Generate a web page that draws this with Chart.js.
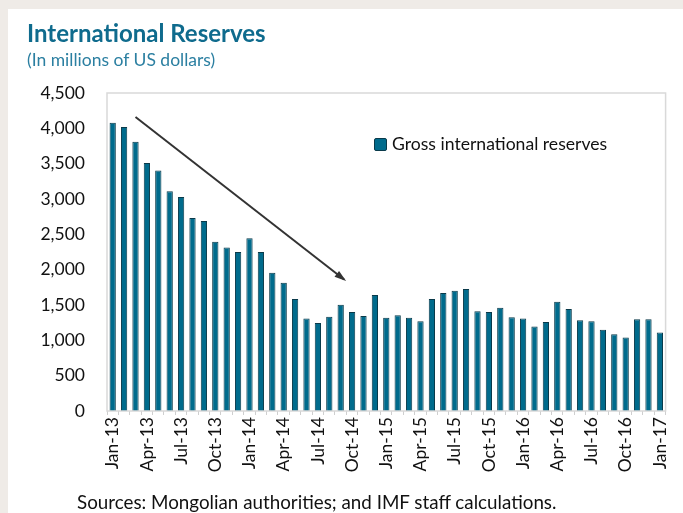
<!DOCTYPE html>
<html>

<head>
    <title>International Reserves</title>
    <script src="https://cdn.jsdelivr.net/npm/chart.js"></script>
    <style type="text/css">
        body {
            margin: 0;
            background: #efebe7;
            font-family: Lato, "Open Sans", sans-serif;
        }

        .card {
            position: absolute;
            left: 8px;
            top: 9px;
            width: 675px;
            height: 504px;
            background: #ffffff;
        }

        .wrap {
            position: absolute;
            left: 0;
            top: 0;
            width: 683px;
            height: 513px;
        }

        .title {
            position: absolute;
            left: 27px;
            top: 18px;
            font-size: 24px;
            font-weight: bold;
            color: #0f6b8d;
        }

        .subtitle {
            position: absolute;
            left: 27px;
            top: 49px;
            font-size: 17.5px;
            color: #2b7fa1;
        }

        .source {
            position: absolute;
            left: 77px;
            top: 490px;
            font-size: 18.8px;
            color: #111;
        }

        #legend {
            position: absolute;
            left: 374px;
            top: 133px;
            font-size: 17.6px;
            color: #111;
        }

        #legend span.box {
            display: inline-block;
            width: 11px;
            height: 11px;
            background: #006b8c;
            border: 1px solid #0a3a4a;
            border-radius: 2px;
            margin-right: 5px;
            vertical-align: -1px;
        }
    </style>
</head>

<body>
    <div class="card"></div>
    <div class="wrap">
        <canvas id="myChart" width="683" height="513"></canvas>
    </div>
    <div class="title">International Reserves</div>
    <div class="subtitle">(In millions of US dollars)</div>
    <div id="legend"></div>
    <div class="source">Sources: Mongolian authorities; and IMF staff calculations.</div>

    <script>
        const months = [
            'Jan-13', 'Feb-13', 'Mar-13', 'Apr-13', 'May-13', 'Jun-13', 'Jul-13', 'Aug-13', 'Sep-13', 'Oct-13', 'Nov-13', 'Dec-13',
            'Jan-14', 'Feb-14', 'Mar-14', 'Apr-14', 'May-14', 'Jun-14', 'Jul-14', 'Aug-14', 'Sep-14', 'Oct-14', 'Nov-14', 'Dec-14',
            'Jan-15', 'Feb-15', 'Mar-15', 'Apr-15', 'May-15', 'Jun-15', 'Jul-15', 'Aug-15', 'Sep-15', 'Oct-15', 'Nov-15', 'Dec-15',
            'Jan-16', 'Feb-16', 'Mar-16', 'Apr-16', 'May-16', 'Jun-16', 'Jul-16', 'Aug-16', 'Sep-16', 'Oct-16', 'Nov-16', 'Dec-16',
            'Jan-17'
        ];
        const grossReserves = [
            4080, 4020, 3810, 3510, 3405, 3110, 3030, 2730, 2690, 2395, 2315, 2250,
            2445, 2250, 1955, 1815, 1585, 1310, 1245, 1335, 1505, 1400, 1345, 1640,
            1320, 1355, 1320, 1270, 1585, 1670, 1700, 1725, 1410, 1400, 1460, 1325,
            1310, 1195, 1260, 1545, 1445, 1285, 1270, 1150, 1085, 1040, 1300, 1300,
            1110
        ];
        const seriesName = 'Gross international reserves';
        const yTicks = [0, 500, 1000, 1500, 2000, 2500, 3000, 3500, 4000, 4500];
        // trend arrow, in data units: [month index, value]
        const arrowFrom = [2, 4160];
        const arrowTo = [20.3, 1860];

        const frameAndArrow = {
            id: 'frameAndArrow',
            afterDraw(chart) {
                const c = chart.ctx;
                const a = chart.chartArea;
                const x = chart.scales.x, y = chart.scales.y;
                c.save();
                c.strokeStyle = '#d9d9d9';
                c.lineWidth = 1.5;
                c.strokeRect(a.left, a.top, a.right - a.left, a.bottom - a.top);

                const step = x.getPixelForValue(1) - x.getPixelForValue(0);
                const x1 = x.getPixelForValue(0) + arrowFrom[0] * step, y1 = y.getPixelForValue(arrowFrom[1]);
                const x2 = x.getPixelForValue(0) + arrowTo[0] * step, y2 = y.getPixelForValue(arrowTo[1]);
                c.strokeStyle = '#333';
                c.fillStyle = '#333';
                c.lineWidth = 2;
                c.beginPath();
                c.moveTo(x1, y1);
                c.lineTo(x2, y2);
                c.stroke();
                const ang = Math.atan2(y2 - y1, x2 - x1);
                c.beginPath();
                c.moveTo(x2 + 2, y2 + 1.5);
                c.lineTo(x2 - 10 * Math.cos(ang - 0.38), y2 - 10 * Math.sin(ang - 0.38));
                c.lineTo(x2 - 10 * Math.cos(ang + 0.38), y2 - 10 * Math.sin(ang + 0.38));
                c.closePath();
                c.fill();
                c.restore();
            }
        };

        var ctx = document.getElementById('myChart').getContext('2d');
        var myChart = new Chart(ctx, {
            type: 'bar',
            data: {
                labels: months,
                datasets: [{
                    label: seriesName,
                    data: grossReserves,
                    backgroundColor: '#006b8c',
                    borderColor: '#0a3a4a',
                    borderWidth: 1,
                    barPercentage: 0.55,
                    categoryPercentage: 1.0
                }]
            },
            options: {
                responsive: false,
                animation: false,
                layout: { padding: { top: 93, right: 11, bottom: 30, left: 37 } },
                plugins: {
                    legend: { display: false },
                    tooltip: { enabled: false }
                },
                scales: {
                    x: {
                        grid: { display: true, drawOnChartArea: false, color: '#cfcfcf', tickLength: 4 },
                        border: { display: false },
                        ticks: {
                            autoSkip: false,
                            maxRotation: 90,
                            minRotation: 90,
                            padding: 2,
                            color: '#111',
                            font: { family: 'Lato', size: 17.5 },
                            callback: function (v, i) { return i % 3 === 0 ? months[i] : ''; }
                        },
                        afterFit: function (s) { s.height = 72; }
                    },
                    y: {
                        min: 0,
                        max: 4500,
                        grid: { display: false },
                        border: { display: false },
                        afterBuildTicks: function (s) { s.ticks = yTicks.map(v => ({ value: v })); },
                        ticks: {
                            padding: 14,
                            color: '#111',
                            font: { family: 'Lato', size: 17.5 },
                            callback: function (v) { return v.toLocaleString('en-US'); }
                        },
                        afterFit: function (s) { s.width = 70; }
                    }
                }
            },
            plugins: [frameAndArrow]
        });

        document.getElementById('legend').innerHTML =
            '<span class="box"></span>' + myChart.data.datasets[0].label;
    </script>
</body>

</html>
